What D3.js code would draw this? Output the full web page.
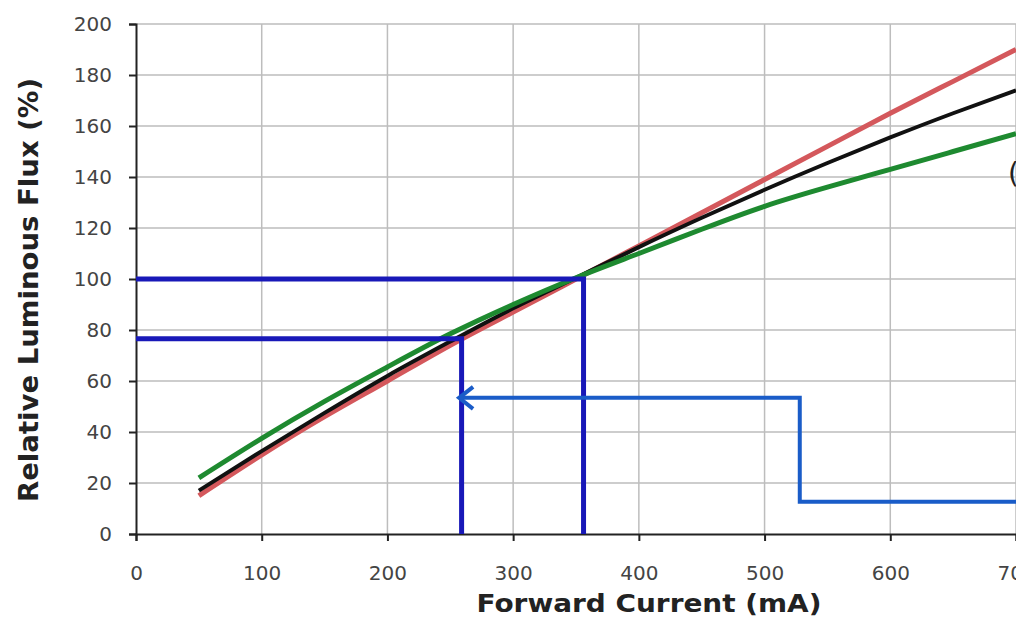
<!DOCTYPE html>
<html>
<head>
<meta charset="utf-8">
<script src="https://cdn.jsdelivr.net/npm/d3@7"></script>
<style>
  body { margin: 0; background: #fff; }
  svg { display: block; }
  .tick text { font-family: "DejaVu Sans", Verdana, sans-serif; fill: #444; }
</style>
</head>
<body>
<div id="chart"></div>
<script>
// Forward current (mA) sample points
var current = [50, 100, 150, 200, 250, 300, 350, 400, 450, 500, 550, 600, 650, 700];
// Relative luminous flux (%) for each curve
var fluxRed   = [15, 31, 46, 60, 74, 87, 100, 113, 126, 139, 152, 165, 177.5, 190];
var fluxBlack = [17, 32.5, 47.5, 62, 75.5, 88.5, 100.5, 112.5, 124, 135, 145.5, 155.5, 165, 174];
var fluxGreen = [22, 37.5, 52, 65.5, 78.5, 90, 100.5, 110, 119.5, 128.5, 136, 143, 150, 157];

var xTicks = [0, 100, 200, 300, 400, 500, 600, 700];
var yTicks = [0, 20, 40, 60, 80, 100, 120, 140, 160, 180, 200];

// blue guide lines (mA, %)
var guide100 = [[0, 100], [356, 100], [356, 0]];
var guide77 = [[0, 76.6], [259, 76.6], [259, 0]];
// arrow path (mA, %)
var arrowPts = [[705, 12.6], [528, 12.6], [528, 53.4], [257, 53.4]];

var svgWidth = 1016;
var svgHeight = 621;

var svg = d3.select("#chart")
  .append("svg")
  .attr("width", svgWidth)
  .attr("height", svgHeight);

var x = d3.scaleLinear().domain([0, 700]).range([136, 1016]);
var y = d3.scaleLinear().domain([0, 200]).range([534, 24]);

// grid
svg.append("g")
  .selectAll("line")
  .data(yTicks.filter(d => d > 0))
  .enter()
  .append("line")
  .attr("x1", x(0)).attr("x2", x(720))
  .attr("y1", d => y(d)).attr("y2", d => y(d))
  .attr("stroke", "#bdbdbd").attr("stroke-width", 1.5);

svg.append("g")
  .selectAll("line")
  .data(xTicks.filter(d => d > 0))
  .enter()
  .append("line")
  .attr("x1", d => x(d)).attr("x2", d => x(d))
  .attr("y1", y(200)).attr("y2", y(0))
  .attr("stroke", "#bdbdbd").attr("stroke-width", 1.5);

// axes
var leftAxis = d3.axisLeft(y).tickValues(yTicks).tickSize(7).tickPadding(17);
var bottomAxis = d3.axisBottom(x).tickValues(xTicks).tickSize(7).tickPadding(25);

var gy = svg.append("g")
  .attr("transform", `translate(${x(0)},0)`)
  .call(leftAxis);
gy.select(".domain").attr("stroke", "#222").attr("stroke-width", 2);
gy.selectAll(".tick line").attr("stroke", "#222").attr("stroke-width", 2);
gy.selectAll(".tick text").style("font-size", "20px");

var gx = svg.append("g")
  .attr("transform", `translate(0,${y(0)})`)
  .call(bottomAxis);
gx.select(".domain").attr("stroke", "#222").attr("stroke-width", 2);
gx.selectAll(".tick line").attr("stroke", "#222").attr("stroke-width", 2);
gx.selectAll(".tick text").style("font-size", "20px");

// curves
var line = d3.line()
  .x(d => x(d[0]))
  .y(d => y(d[1]))
  .curve(d3.curveNatural);

function series(vals) {
  return current.map((c, i) => [c, vals[i]]);
}

svg.append("path").datum(series(fluxRed))
  .attr("d", line).attr("fill", "none")
  .attr("stroke", "#d4585c").attr("stroke-width", 5);
svg.append("path").datum(series(fluxBlack))
  .attr("d", line).attr("fill", "none")
  .attr("stroke", "#111").attr("stroke-width", 4);
svg.append("path").datum(series(fluxGreen))
  .attr("d", line).attr("fill", "none")
  .attr("stroke", "#1e8a30").attr("stroke-width", 5);

// guide lines
var straight = d3.line().x(d => x(d[0])).y(d => y(d[1]));
[guide100, guide77].forEach(function(g) {
  svg.append("path").datum(g)
    .attr("d", straight).attr("fill", "none")
    .attr("stroke", "#1818b8").attr("stroke-width", 5)
    .attr("stroke-linejoin", "miter");
});

// arrow
svg.append("path").datum(arrowPts)
  .attr("d", straight).attr("fill", "none")
  .attr("stroke", "#1a5cc8").attr("stroke-width", 4)
  .attr("stroke-linejoin", "miter");
var tip = arrowPts[arrowPts.length - 1];
svg.append("path")
  .attr("d", `M${x(tip[0]) + 14},${y(tip[1]) - 11} L${x(tip[0])},${y(tip[1])} L${x(tip[0]) + 14},${y(tip[1]) + 11}`)
  .attr("fill", "none")
  .attr("stroke", "#1a5cc8").attr("stroke-width", 4);

// axis titles
svg.append("text")
  .attr("transform", `translate(38, 290) rotate(-90)`)
  .attr("text-anchor", "middle")
  .attr("textLength", 424)
  .attr("lengthAdjust", "spacingAndGlyphs")
  .style("font-family", "'DejaVu Sans', Verdana, sans-serif")
  .style("font-weight", "bold")
  .style("font-size", "26px")
  .attr("fill", "#222")
  .text("Relative Luminous Flux (%)");

svg.append("text")
  .attr("x", 649)
  .attr("y", 612)
  .attr("text-anchor", "middle")
  .attr("textLength", 345)
  .attr("lengthAdjust", "spacingAndGlyphs")
  .style("font-family", "'DejaVu Sans', Verdana, sans-serif")
  .style("font-weight", "bold")
  .style("font-size", "24px")
  .attr("fill", "#222")
  .text("Forward Current (mA)");

// cut-off label at right edge
svg.append("text")
  .attr("x", 1008)
  .attr("y", 183)
  .style("font-family", "'DejaVu Sans', Verdana, sans-serif")
  .style("font-size", "28px")
  .attr("fill", "#222")
  .text("(");
</script>
</body>
</html>
